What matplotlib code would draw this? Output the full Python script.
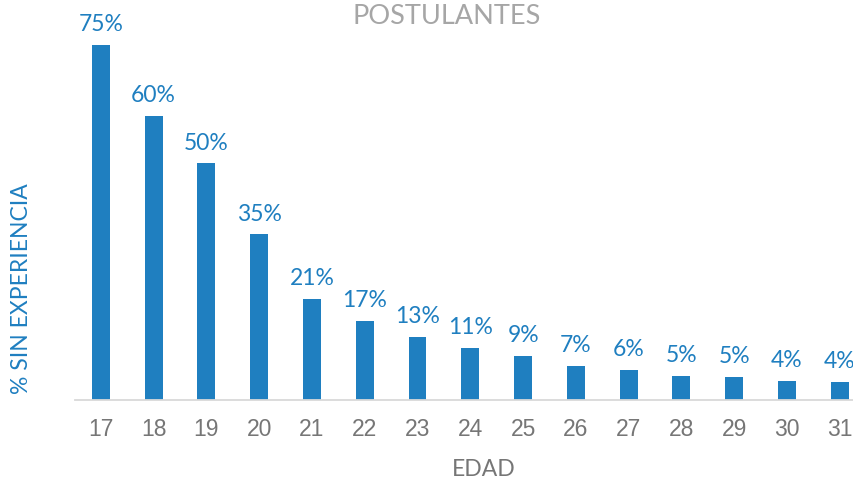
import matplotlib
matplotlib.use("Agg")
import matplotlib.pyplot as plt
import numpy as np

# data
edades = [17, 18, 19, 20, 21, 22, 23, 24, 25, 26, 27, 28, 29, 30, 31]
sin_exp = [75, 60, 50, 35, 21.3, 16.7, 13.3, 11, 9.3, 7.2, 6.3, 5.1, 4.9, 4.0, 3.8]
etiquetas = ["75%", "60%", "50%", "35%", "21%", "17%", "13%", "11%", "9%",
             "7%", "6%", "5%", "5%", "4%", "4%"]

azul = "#1f7fc0"
gris = "#767676"

fig = plt.figure(figsize=(8.54, 4.82), dpi=100)
ax = fig.add_axes([75 / 854, 1 - 400 / 482, 1 - 75 / 854, 380 / 482])

ax.bar(edades, sin_exp, width=0.34, color=azul)
for x, v, t in zip(edades, sin_exp, etiquetas):
    ax.annotate(t, (x, v), xytext=(0, 7), textcoords="offset points",
                ha="center", va="bottom", color=azul, fontsize=16.5,
                family="Lato")

ax.set_xlim(16.51, 31.27)
ax.set_ylim(0, 80.3)
ax.set_xticks(edades)
ax.set_xticklabels([str(e) for e in edades], family="Liberation Sans",
                   fontsize=16.5, color=gris)
ax.tick_params(axis="x", length=0, pad=13)
ax.set_yticks([])

for s in ["top", "right", "left"]:
    ax.spines[s].set_visible(False)
ax.spines["bottom"].set_color("#d9d9d9")
ax.spines["bottom"].set_linewidth(1.3)

fig.text(447 / 854, 1 - 16 / 482, "POSTULANTES", ha="center", va="center",
         color="#a6a6a6", fontsize=19.5, family="Lato")
fig.text(484 / 854, 1 - 470 / 482, "EDAD", ha="center", va="center",
         color=gris, fontsize=16.5, family="Lato")
fig.text(22 / 854, 1 - 289 / 482, "% SIN EXPERIENCIA", ha="center", va="center",
         rotation=90, color=azul, fontsize=16.5, family="Lato")

fig.savefig("out.png", dpi=100)
